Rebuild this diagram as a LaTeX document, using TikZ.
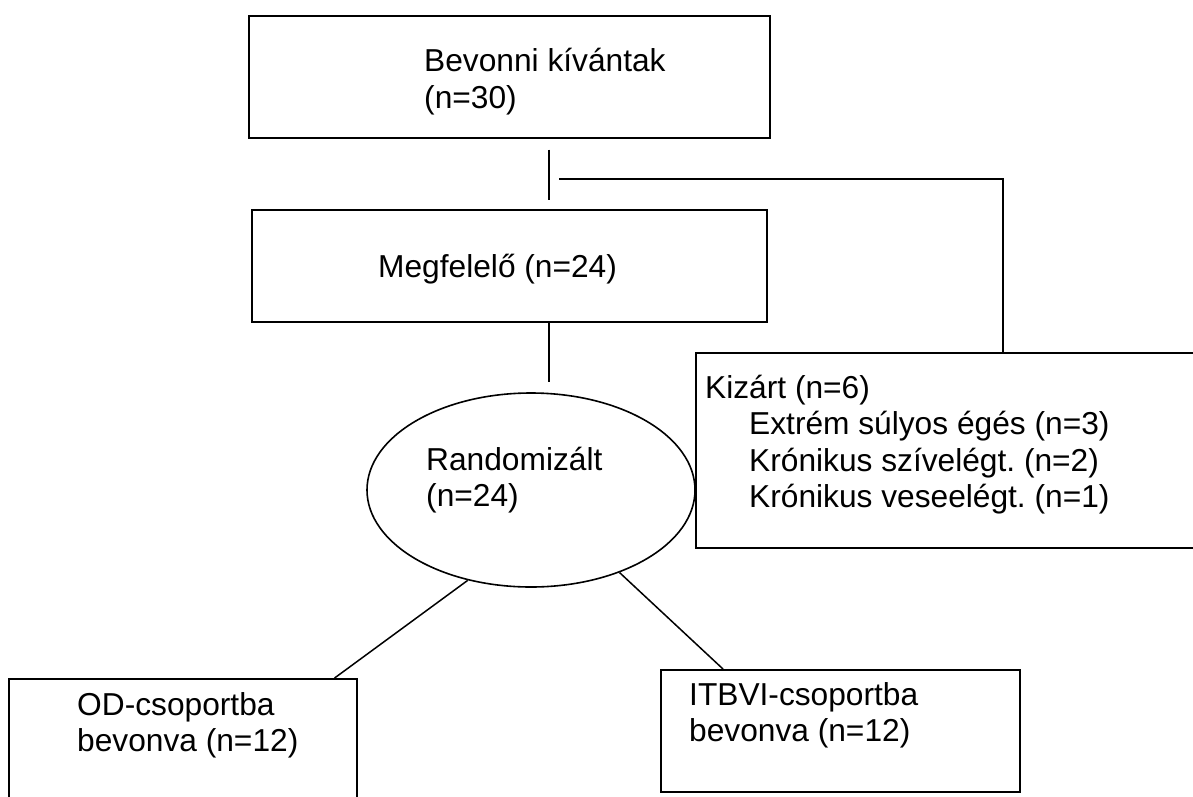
\documentclass[tikz,border=0pt]{standalone}
\usepackage{fontspec}
\setmainfont{Liberation Sans}
\frenchspacing
\usetikzlibrary{shapes.geometric}
\tikzset{
  flowbox/.style={draw, line width=1.6pt, fill=white, inner sep=0pt, anchor=north west},
  flowtext/.style={anchor=base west, inner sep=0pt, align=left, font=\fontsize{31.7}{36.5}\selectfont},
  link/.style={line width=1.5pt}
}
\begin{document}
\begin{tikzpicture}[x=1pt, y=-1pt]
    \clip (0,0) rectangle (1193,796);
    \fill[white] (0,0) rectangle (1193,796);
    % boxes
    \node[flowbox, minimum width=521pt, minimum height=122pt] (wanted) at (248,15) {};
    \node[flowbox, minimum width=515pt, minimum height=112pt] (eligible) at (251,209) {};
    \node[draw, ellipse, line width=1.6pt, minimum width=328pt, minimum height=194pt, inner sep=0pt] (random) at (531,490) {};
    \node[flowbox, minimum width=540pt, minimum height=195pt] (excluded) at (695,352) {};
    \node[flowbox, minimum width=348pt, minimum height=140pt] (groupod) at (8,678) {};
    \node[flowbox, minimum width=359pt, minimum height=122pt] (groupitbvi) at (660,669) {};
    % texts (anchored at the baseline of the last line)
    \node[flowtext] (wantedtext) at (424,108) {Bevonni kívántak\\(n=30)};
    \node[flowtext] (eligibletext) at (378,277) {Megfelelő (n=24)};
    \node[flowtext] (randomtext) at (426,506.5) {Randomizált\\(n=24)};
    \node[flowtext] (excludedtext) at (705,507.5) {Kizárt (n=6)\\
      \hspace*{44pt}Extrém súlyos égés (n=3)\\
      \hspace*{44pt}Krónikus szívelégt. (n=2)\\
      \hspace*{44pt}Krónikus veseelégt. (n=1)};
    \node[flowtext] (groupodtext) at (77,751.5) {OD-csoportba\\bevonva (n=12)};
    \node[flowtext] (groupitbvitext) at (689,741.5) {ITBVI-csoportba\\bevonva (n=12)};
    % connectors
    \coordinate (spine) at (549,0);
    \coordinate (branch) at (559,179);
    \coordinate (drop) at (1003,0);
    \draw[link, shorten <=11pt, shorten >=9pt] (wanted.south -| spine) -- (eligible.north -| spine);
    \draw[link] (branch) -| (drop |- excluded.north);
    \draw[link, shorten >=10pt] (eligible.south -| spine) -- (random.north -| spine);
    \draw[link] (random.235) -- ([xshift=-23pt]groupod.north east);
    \draw[link] (random.317) -- ([xshift=63pt]groupitbvi.north west);
\end{tikzpicture}
\end{document}
